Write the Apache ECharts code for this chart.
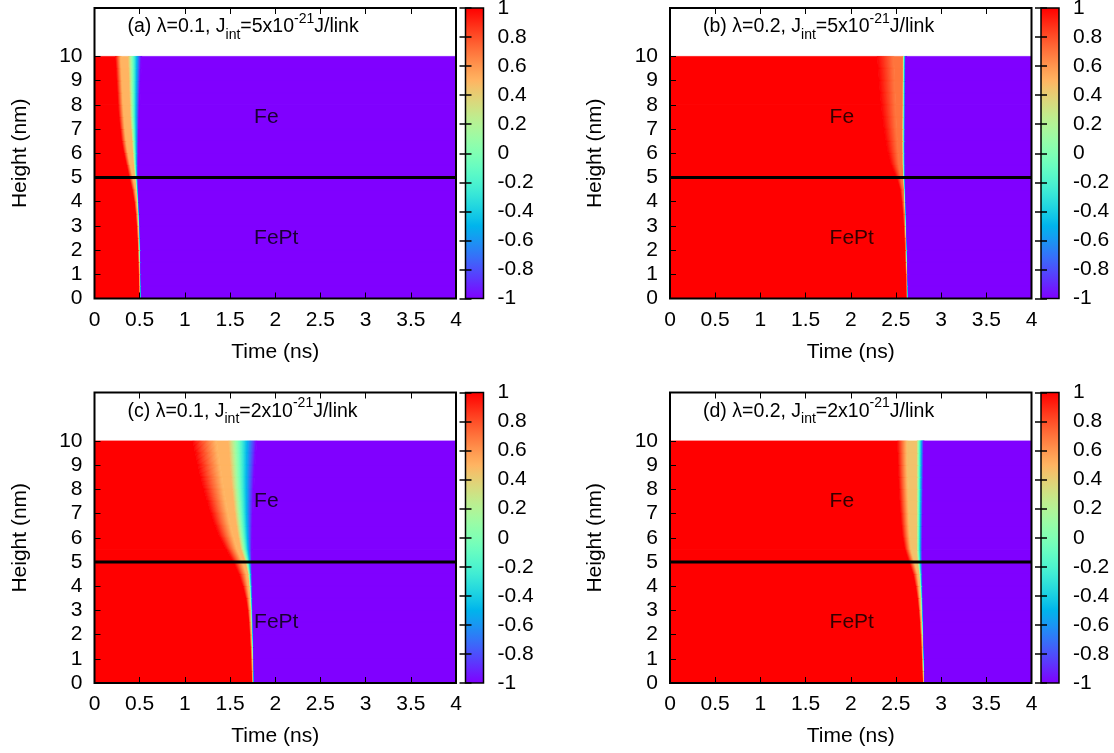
<!DOCTYPE html>
<html>
<head>
<meta charset="utf-8">
<title>Magnetisation switching maps</title>
<script src="https://cdn.jsdelivr.net/npm/echarts@6.0.0/dist/echarts.min.js"></script>
<style>
  html, body { margin: 0; padding: 0; background: #fff; }
  #chart { width: 1114px; height: 753px; }
</style>
</head>
<body>
<div id="chart"></div>
<script>
// axes and colour scale ticks
const timeRange = [0, 4];
const heightTicks = [0, 1, 2, 3, 4, 5, 6, 7, 8, 9, 10];
const cbTicks = [-1, -0.8, -0.6, -0.4, -0.2, 0, 0.2, 0.4, 0.6, 0.8, 1];
const interfaceHeight = 5;
const layerNames = ['Fe', 'FePt'];
const layerLabelTime = 1.76;
const layerLabelHeight = [7.5, 2.5];

const heightKnots = [0, 0.5, 1, 1.5, 2, 2.5, 3, 3.5, 4, 4.5, 5, 5.5, 6, 6.5, 7, 7.5, 8, 8.5, 9, 9.5, 10];

// at every height knot (times in ns):
//  *Red  = last time the magnetisation is fully +1
//  *Plat = time it reaches the intermediate plateau value
//  *Drop = time the plateau ends
//  *Blue = time it is fully -1
// (a) lambda=0.1, J=5e-21
const aPlateau = 0.5;
const aRed  = [0.502,0.499,0.495,0.491,0.487,0.481,0.473,0.462,0.446,0.422,0.390,0.360,0.330,0.305,0.290,0.275,0.265,0.258,0.250,0.243,0.235];
const aPlat = [0.511,0.509,0.507,0.504,0.500,0.496,0.490,0.483,0.472,0.457,0.430,0.400,0.375,0.355,0.340,0.330,0.320,0.313,0.307,0.300,0.295];
const aDrop = [0.513,0.511,0.509,0.506,0.502,0.498,0.493,0.487,0.479,0.469,0.455,0.440,0.430,0.420,0.410,0.400,0.395,0.390,0.385,0.380,0.375];
const aBlue = [0.523,0.521,0.519,0.517,0.515,0.512,0.508,0.503,0.497,0.491,0.487,0.487,0.489,0.491,0.495,0.498,0.502,0.507,0.512,0.517,0.522];
// (b) lambda=0.2, J=5e-21
const bPlateau = 0.7;
const bRed  = [2.622,2.618,2.614,2.610,2.605,2.599,2.592,2.583,2.570,2.551,2.510,2.450,2.415,2.390,2.370,2.352,2.338,2.325,2.315,2.305,2.295];
const bPlat = [2.630,2.627,2.624,2.620,2.616,2.612,2.606,2.600,2.592,2.583,2.560,2.535,2.525,2.515,2.505,2.500,2.495,2.490,2.485,2.480,2.475];
const bDrop = [2.632,2.629,2.626,2.622,2.618,2.614,2.609,2.604,2.599,2.593,2.585,2.579,2.578,2.577,2.577,2.578,2.579,2.579,2.580,2.580,2.581];
const bBlue = [2.642,2.640,2.637,2.634,2.631,2.627,2.624,2.620,2.616,2.612,2.608,2.607,2.606,2.606,2.607,2.608,2.609,2.610,2.611,2.612,2.614];
// (c) lambda=0.1, J=2e-21
const cPlateau = 0.5;
const cRed  = [1.748,1.743,1.738,1.732,1.724,1.715,1.702,1.680,1.645,1.600,1.540,1.460,1.390,1.335,1.290,1.250,1.210,1.175,1.145,1.115,1.090];
const cPlat = [1.760,1.757,1.753,1.749,1.743,1.737,1.729,1.719,1.704,1.684,1.640,1.580,1.540,1.505,1.478,1.452,1.430,1.410,1.390,1.370,1.350];
const cDrop = [1.762,1.759,1.756,1.752,1.747,1.742,1.736,1.728,1.718,1.705,1.675,1.625,1.597,1.575,1.557,1.542,1.528,1.515,1.505,1.495,1.485];
const cBlue = [1.773,1.771,1.769,1.766,1.763,1.760,1.757,1.754,1.751,1.748,1.746,1.745,1.747,1.750,1.753,1.758,1.763,1.769,1.777,1.785,1.795];
// (d) lambda=0.2, J=2e-21
const dPlateau = 0.45;
const dRed  = [2.803,2.798,2.792,2.786,2.778,2.770,2.759,2.744,2.723,2.695,2.650,2.605,2.580,2.565,2.555,2.545,2.538,2.532,2.527,2.522,2.518];
const dPlat = [2.814,2.810,2.806,2.802,2.796,2.790,2.782,2.773,2.762,2.748,2.710,2.672,2.660,2.652,2.647,2.642,2.637,2.633,2.630,2.630,2.630];
const dDrop = [2.817,2.813,2.809,2.805,2.800,2.795,2.789,2.781,2.773,2.763,2.745,2.735,2.735,2.735,2.735,2.735,2.735,2.735,2.735,2.735,2.735];
const dBlue = [2.825,2.822,2.819,2.816,2.813,2.810,2.807,2.804,2.801,2.798,2.797,2.796,2.797,2.799,2.801,2.803,2.805,2.807,2.809,2.811,2.813];

const panels = [
  { tag: '(a)', lambda: '0.1', jint: '5', plateau: aPlateau, red: aRed, plat: aPlat, drop: aDrop, blue: aBlue },
  { tag: '(b)', lambda: '0.2', jint: '5', plateau: bPlateau, red: bRed, plat: bPlat, drop: bDrop, blue: bBlue },
  { tag: '(c)', lambda: '0.1', jint: '2', plateau: cPlateau, red: cRed, plat: cPlat, drop: cDrop, blue: cBlue },
  { tag: '(d)', lambda: '0.2', jint: '2', plateau: dPlateau, red: dRed, plat: dPlat, drop: dDrop, blue: dBlue }
];

// layout (px)
const colLeft = [94.5, 670];
const rowTop = [8, 392.5];
const plotW = 361.5, plotH = 290.5;
const cbGap = 371, cbW = 18;
const FONT = 'Liberation Sans, Arial, Helvetica, sans-serif';

// gnuplot rgbformulae 33,13,10
function paletteColor(v) {
  const x = (v + 1) / 2;
  const r = Math.min(1, Math.abs(2 * x - 0.5));
  const g = Math.max(0, Math.sin(Math.PI * x));
  const b = Math.max(0, Math.cos(Math.PI * x / 2));
  const h = c => Math.round(c * 255).toString(16).padStart(2, '0');
  return '#' + h(r) + h(g) + h(b);
}
const paletteStops = [];
for (let i = 0; i <= 40; i++) paletteStops.push(paletteColor(-1 + i / 20));

// s runs -1..4 along a row: start -> red -> plateau -> drop -> blue -> end
function knotTime(pn, j, s) {
  const seq = [timeRange[0], pn.red[j], pn.plat[j], pn.drop[j], pn.blue[j], timeRange[1]];
  if (s <= -1) return seq[0];
  if (s >= 4) return seq[5];
  const i = Math.floor(s + 1), f = s + 1 - i;
  return seq[i] + (seq[i + 1] - seq[i]) * f;
}

function buildCells(pn) {
  const cells = [];
  const n1 = 20, n3 = 40, P = pn.plateau;
  for (let j = 0; j < heightKnots.length - 1; j++) {
    cells.push([j, -1, 0, 1]);
    for (let k = 0; k < n1; k++) {
      const m = (k + 0.5) / n1;
      cells.push([j, k / n1, (k + 1) / n1, 1 + (P - 1) * m]);
    }
    cells.push([j, 1, 2, P]);
    for (let k = 0; k < n3; k++) {
      const m = (k + 0.5) / n3;
      cells.push([j, 2 + k / n3, 2 + (k + 1) / n3, P + (-1 - P) * m]);
    }
    cells.push([j, 3, 4, -1]);
  }
  return cells;
}

function makeCellRenderer(pn) {
  const last = heightKnots.length - 2;
  return function (params, api) {
    const j = api.value(0), s0 = api.value(1), s1 = api.value(2);
    const h0 = heightKnots[j], h1 = heightKnots[j + 1];
    const pts = [
      api.coord([knotTime(pn, j, s0), h0]),
      api.coord([knotTime(pn, j, s1), h0]),
      api.coord([knotTime(pn, j + 1, s1), h1]),
      api.coord([knotTime(pn, j + 1, s0), h1])
    ];
    if (j < last) { pts[2][1] -= 0.7; pts[3][1] -= 0.7; }
    const c = api.visual('color');
    return { type: 'polygon', shape: { points: pts }, style: { fill: c, stroke: c, lineWidth: 0.7 } };
  };
}

function renderColorbar(params, api) {
  const p0 = api.coord([api.value(0), api.value(3)]);
  const p1 = api.coord([api.value(1), api.value(2)]);
  const stops = paletteStops.map((c, i) => ({ offset: i / (paletteStops.length - 1), color: c }));
  return {
    type: 'rect',
    shape: { x: p0[0], y: p0[1], width: p1[0] - p0[0], height: p1[1] - p0[1] },
    style: { fill: new echarts.graphic.LinearGradient(0, 1, 0, 0, stops) }
  };
}

const txt = { color: '#000', fontFamily: FONT, fontSize: 21 };
const grids = [], xAxes = [], yAxes = [], series = [], titles = [], heatIdx = [];

panels.forEach((pn, k) => {
  const left = colLeft[k % 2], top = rowTop[Math.floor(k / 2)];
  const g = grids.length;
  grids.push({ left: left, top: top, width: plotW, height: plotH, show: true, z: 10,
    backgroundColor: 'transparent', borderColor: '#000', borderWidth: 2, outerBoundsMode: 'none' });
  grids.push({ left: left + cbGap, top: top, width: cbW, height: plotH, show: true, z: 10,
    backgroundColor: 'transparent', borderColor: '#000', borderWidth: 1.5, outerBoundsMode: 'none' });

  const xi = xAxes.length, yi = yAxes.length;
  xAxes.push({ gridIndex: g, type: 'value', min: timeRange[0], max: timeRange[1], interval: 0.5, z: 10,
    position: 'bottom', name: 'Time (ns)', nameLocation: 'middle', nameGap: 43,
    nameTextStyle: txt, axisLine: { show: false }, splitLine: { show: false },
    axisTick: { inside: true, length: 6, lineStyle: { color: '#000', width: 1 } },
    axisLabel: Object.assign({ margin: 11, showMinLabel: true, showMaxLabel: true }, txt) });
  xAxes.push({ gridIndex: g, type: 'value', min: timeRange[0], max: timeRange[1], interval: 0.5, z: 10,
    position: 'top', axisLine: { show: false }, splitLine: { show: false }, axisLabel: { show: false },
    axisTick: { inside: true, length: 6, lineStyle: { color: '#000', width: 1 } } });
  xAxes.push({ gridIndex: g + 1, type: 'value', min: 0, max: 1, show: false });

  yAxes.push({ gridIndex: g, type: 'value', min: 0, max: 12, z: 10, position: 'left',
    name: 'Height (nm)', nameLocation: 'middle', nameGap: 64, nameTextStyle: txt,
    axisLine: { show: false }, splitLine: { show: false },
    axisTick: { inside: true, length: 6, customValues: heightTicks, lineStyle: { color: '#000', width: 1 } },
    axisLabel: Object.assign({ margin: 12, customValues: heightTicks }, txt) });
  yAxes.push({ gridIndex: g + 1, type: 'value', min: -1, max: 1, z: 10, position: 'right',
    axisLine: { show: false }, splitLine: { show: false },
    axisTick: { inside: true, length: 6, customValues: cbTicks, lineStyle: { color: '#000', width: 1.5 } },
    axisLabel: Object.assign({ margin: 14, customValues: cbTicks, formatter: v => String(+(+v).toFixed(1)) }, txt) });
  yAxes.push({ gridIndex: g + 1, type: 'value', min: -1, max: 1, z: 10, position: 'left',
    axisLine: { show: false }, splitLine: { show: false }, axisLabel: { show: false },
    axisTick: { inside: true, length: 6, customValues: cbTicks, lineStyle: { color: '#000', width: 1.5 } } });

  heatIdx.push(series.length);
  series.push({ type: 'custom', xAxisIndex: xi, yAxisIndex: yi, renderItem: makeCellRenderer(pn),
    silent: true, z: 2, clip: true, data: buildCells(pn) });
  series.push({ type: 'line', xAxisIndex: xi, yAxisIndex: yi, symbol: 'none', silent: true, z: 5,
    lineStyle: { color: '#000', width: 3 },
    data: [[timeRange[0], interfaceHeight], [timeRange[1], interfaceHeight]] });
  series.push({ type: 'scatter', xAxisIndex: xi, yAxisIndex: yi, symbolSize: 1, silent: true, z: 6,
    itemStyle: { color: 'transparent' },
    label: { show: true, position: 'right', distance: 0, formatter: '{b}', color: '#000', fontFamily: FONT, fontSize: 21 },
    data: layerNames.map((n, i) => ({ name: n, value: [layerLabelTime, layerLabelHeight[i]] })) });
  series.push({ type: 'custom', xAxisIndex: xi + 2, yAxisIndex: yi + 2, renderItem: renderColorbar, silent: true, z: 2,
    encode: { x: [0, 1], y: [2, 3] }, data: [[0, 1, -1, 1]] });

  titles.push({
    left: left + 33, top: top + 4, padding: 0,
    text: '{n|' + pn.tag + ' λ=' + pn.lambda + ', J}{sub|int}{n|=' + pn.jint + 'x10}{sup|-21}{n|J/link}',
    textStyle: {
      fontFamily: FONT, fontWeight: 'normal',
      rich: {
        n: { fontFamily: FONT, fontWeight: 'normal', fontSize: 19.5, color: '#000', lineHeight: 30, verticalAlign: 'middle' },
        sub: { fontFamily: FONT, fontWeight: 'normal', fontSize: 14, color: '#000', lineHeight: 14, verticalAlign: 'bottom' },
        sup: { fontFamily: FONT, fontWeight: 'normal', fontSize: 14, color: '#000', lineHeight: 14, verticalAlign: 'top' }
      }
    }
  });
});

const chart = echarts.init(document.getElementById('chart'), null, { renderer: 'canvas' });
chart.setOption({
  animation: false,
  backgroundColor: '#fff',
  title: titles,
  grid: grids,
  xAxis: xAxes,
  yAxis: yAxes,
  visualMap: {
    type: 'continuous', show: false, min: -1, max: 1, dimension: 3,
    seriesIndex: heatIdx, inRange: { color: paletteStops }
  },
  series: series
});
</script>
</body>
</html>
